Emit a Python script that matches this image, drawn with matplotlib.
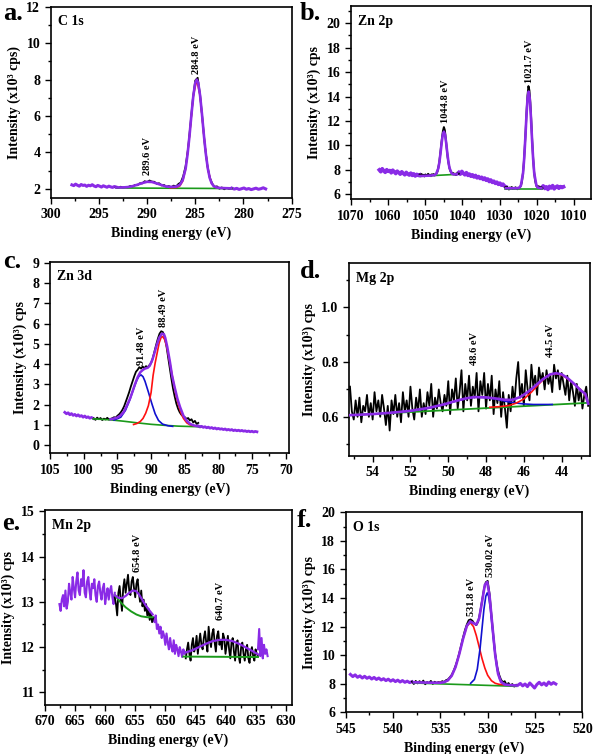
import numpy as np
import matplotlib.pyplot as plt
from matplotlib.ticker import MultipleLocator

plt.rcParams['font.family'] = 'Liberation Serif'
plt.rcParams['font.weight'] = 'bold'
plt.rcParams['axes.labelweight'] = 'bold'

PURPLE = '#8a2be6'
GREEN = '#1b9a1b'
RED = '#ff1010'
BLUE = '#1010d0'

# ---------------- a. C 1s ----------------
a_pl_left = [2.22, 2.18, 2.26, 2.20, 2.15, 2.24, 2.19, 2.21, 2.14, 2.20, 2.17, 2.23, 2.16,
             2.12, 2.19, 2.15, 2.10, 2.17, 2.13, 2.09, 2.15, 2.11, 2.08, 2.13, 2.10]
a_pl_right = [2.04, 1.99, 2.03, 1.97, 2.01, 2.05, 1.98, 2.02, 1.96, 2.00, 2.04, 1.98, 2.01, 2.06, 2.00]
a_black = [2.10, 2.05, 2.12, 2.07, 2.11, 2.08, 2.16, 2.12, 2.22, 2.20,
           2.31, 2.30, 2.42, 2.37, 2.46, 2.40, 2.39, 2.28, 2.31, 2.19,
           2.22, 2.11, 2.16, 2.09, 2.18, 2.13, 2.27, 2.36, 2.70, 3.25,
           4.20, 5.55, 6.95, 7.95, 8.10, 7.15, 5.80, 4.35, 3.30, 2.62,
           2.30, 2.10, 2.14, 2.01, 2.08, 1.98, 2.05, 2.00, 2.03]
a_env_x = [293.2, 292.5, 292.0, 291.5, 291.0, 290.5, 290.0, 289.5, 289.0, 288.5,
           288.0, 287.5, 287.0, 286.6, 286.3, 286.0, 285.8, 285.6, 285.4, 285.2,
           285.0, 284.85, 284.7, 284.5, 284.3, 284.1, 283.9, 283.7, 283.5, 283.3,
           283.1, 282.8, 282.4, 281.9, 281.3]
a_env_y = [2.08, 2.08, 2.10, 2.15, 2.23, 2.32, 2.39, 2.38, 2.30, 2.21,
           2.13, 2.11, 2.12, 2.22, 2.49, 3.12, 3.90, 4.91, 6.07, 7.12,
           7.83, 8.00, 7.83, 7.12, 6.07, 4.91, 3.90, 3.12, 2.60, 2.31,
           2.16, 2.08, 2.05, 2.04, 2.03]
a_red_x = [287.6, 287.0, 286.6, 286.3, 286.0, 285.6, 285.2, 284.85, 284.5, 284.1, 283.7, 283.3, 282.9, 282.4]
a_red_y = [2.06, 2.07, 2.16, 2.42, 3.08, 4.88, 7.10, 7.98, 7.10, 4.88, 3.08, 2.28, 2.09, 2.05]
a_bg_x = [293.2, 281.2]
a_bg_y = [2.05, 2.02]

# ---------------- b. Zn 2p ----------------
b_pl_left = [8.00, 7.85, 8.10, 7.92, 7.80, 8.02, 7.88, 7.95, 7.76, 7.98, 7.84, 7.70, 7.90, 7.78,
             7.65, 7.85, 7.72, 7.60, 7.80, 7.66, 7.58, 7.74, 7.55, 7.68, 7.50, 7.64, 7.56, 7.60]
b_pl_mid = [7.80, 7.65, 7.88, 7.72, 7.60, 7.78, 7.55, 7.66, 7.48, 7.60, 7.42, 7.55, 7.35, 7.46, 7.30, 7.40,
            7.22, 7.34, 7.15, 7.26, 7.05, 7.18, 6.98, 7.08, 6.90, 7.00, 6.82, 6.92, 6.75, 6.84, 6.68, 6.62]
b_pl_right = [6.55, 6.70, 6.48, 6.62, 6.40, 6.66, 6.52, 6.72, 6.45, 6.60, 6.68, 6.50, 6.64, 6.56, 6.62]
b_black1 = [7.62, 7.48, 7.66, 7.55, 7.60, 7.47, 7.63, 7.58, 7.52, 7.68,
            7.55, 7.61, 7.49, 7.64, 7.58, 7.66, 7.55, 7.62, 7.70, 7.85,
            8.20, 8.60, 9.25, 9.95, 10.65, 11.20, 11.50, 11.25, 10.55, 9.80,
            9.05, 8.55, 8.15, 7.90, 7.80, 7.66, 7.74, 7.62, 7.70, 7.58,
            7.72, 7.65, 7.69]
b_env1_x = [1051.5, 1050.0, 1048.5, 1047.5, 1047.1, 1046.5, 1046.2, 1045.9, 1045.6, 1045.3,
            1045.0, 1044.7, 1044.4, 1044.1, 1043.8, 1043.5, 1042.9, 1042.5, 1041.5]
b_env1_y = [7.50, 7.52, 7.54, 7.58, 7.66, 8.13, 8.66, 9.40, 10.22, 10.88,
            11.13, 10.89, 10.23, 9.41, 8.69, 8.16, 7.71, 7.64, 7.64]
b_bg1_x = [1051.5, 1041.5]
b_bg1_y = [7.48, 7.64]
b_black2 = [6.58, 6.45, 6.62, 6.50, 6.40, 6.56, 6.48, 6.60, 6.44, 6.53,
            6.47, 6.58, 6.50, 6.42, 6.55, 6.49, 6.60, 6.75, 7.05, 7.70,
            8.55, 9.80, 11.20, 12.80, 14.10, 14.85, 14.50, 13.50, 12.05, 10.40,
            9.00, 7.90, 7.20, 6.85, 6.62, 6.70, 6.52, 6.64, 6.48, 6.58, 6.51]
b_env2_x = [1028.3, 1026.5, 1025.0, 1024.7, 1024.3, 1023.7, 1023.4, 1023.1, 1022.8, 1022.5,
            1022.2, 1021.9, 1021.6, 1021.3, 1021.0, 1020.7, 1020.1, 1019.7, 1018.8]
b_env2_y = [6.50, 6.50, 6.51, 6.55, 6.71, 7.74, 8.93, 10.56, 12.38, 13.84,
            14.40, 13.84, 12.38, 10.56, 8.93, 7.74, 6.71, 6.55, 6.50]
b_bg2_x = [1028.5, 1018.7]
b_bg2_y = [6.47, 6.47]

# ---------------- c. Zn 3d ----------------
c_pl_left = [1.62, 1.55, 1.60, 1.50, 1.56, 1.47, 1.52, 1.44, 1.50, 1.42, 1.46, 1.38, 1.44, 1.36,
             1.40, 1.33, 1.37, 1.32]
c_pl_right = [0.95, 0.90, 0.93, 0.88, 0.91, 0.86, 0.89, 0.84, 0.87, 0.82, 0.85, 0.80, 0.83, 0.79,
              0.81, 0.77, 0.80, 0.75, 0.78, 0.74, 0.77, 0.72, 0.75, 0.71, 0.74, 0.70, 0.73, 0.69,
              0.71, 0.67, 0.70, 0.66, 0.69, 0.65, 0.68, 0.66]
c_black = [1.32, 1.25, 1.36, 1.28, 1.34, 1.24, 1.31, 1.27, 1.35, 1.26,
           1.30, 1.33, 1.38, 1.36, 1.45, 1.52, 1.62, 1.75, 1.92, 2.15,
           2.38, 2.62, 2.90, 3.15, 3.40, 3.62, 3.72, 3.85, 3.78, 3.88,
           3.80, 3.90, 3.84, 3.95, 4.05, 4.30, 4.62, 4.95, 5.25, 5.50,
           5.62, 5.58, 5.35, 4.95, 4.40, 3.85, 3.30, 2.80, 2.40, 2.05,
           1.80, 1.62, 1.50, 1.42, 1.38, 1.30, 1.34, 1.22, 1.28, 1.12,
           1.20, 1.05, 1.10]
c_env_x = [96.0, 95.1, 94.6, 94.1, 93.6, 93.1, 92.7, 92.4, 92.0, 91.6,
           91.2, 90.9, 90.5, 90.2, 89.8, 89.5, 89.2, 88.8, 88.4, 88.1,
           87.9, 87.6, 87.2, 86.9, 86.5, 86.1, 85.7, 85.2, 84.7, 84.2,
           83.7, 83.2, 82.7]
c_env_y = [1.28, 1.35, 1.45, 1.62, 1.95, 2.32, 2.70, 3.00, 3.35, 3.60,
           3.72, 3.78, 3.82, 3.92, 4.22, 4.55, 4.90, 5.30, 5.50, 5.48,
           5.30, 4.85, 4.10, 3.45, 2.85, 2.30, 1.88, 1.45, 1.20, 1.05,
           0.98, 0.94, 0.92]
c_blue_x = [95.5, 94.5, 93.8, 93.2, 92.6, 92.1, 91.8, 91.5, 91.2, 90.9, 90.4, 89.9, 89.4, 88.9, 88.3, 87.5, 86.8]
c_blue_y = [1.24, 1.38, 1.72, 2.20, 2.78, 3.22, 3.40, 3.47, 3.38, 3.15, 2.62, 2.06, 1.55, 1.22, 1.04, 0.96, 0.93]
c_red_x = [92.6, 92.1, 91.6, 91.2, 90.8, 90.4, 90.0, 89.7, 89.4, 89.1, 88.8, 88.5, 88.3,
           88.0, 87.7, 87.4, 87.0, 86.7, 86.3, 86.0, 85.6, 85.2, 84.7, 84.2, 83.5]
c_red_y = [1.02, 1.07, 1.17, 1.32, 1.58, 1.95, 2.60, 3.45, 4.05, 4.55, 5.05, 5.33, 5.36,
           5.22, 4.88, 4.40, 3.68, 3.13, 2.45, 2.06, 1.62, 1.32, 1.10, 1.00, 0.95]
c_bg_x = [98.6, 96.0, 94.0, 92.0, 90.0, 88.0, 86.0, 84.0, 82.7]
c_bg_y = [1.30, 1.25, 1.18, 1.10, 1.03, 0.98, 0.94, 0.92, 0.91]

# ---------------- d. Mg 2p ----------------
d_black = [0.71, 0.62, 0.59, 0.66, 0.60, 0.67, 0.58, 0.64, 0.62, 0.68,
           0.60, 0.65, 0.59, 0.69, 0.62, 0.66, 0.60, 0.68, 0.63, 0.57,
           0.64, 0.55, 0.66, 0.61, 0.68, 0.60, 0.65, 0.58, 0.69, 0.62,
           0.66, 0.60, 0.71, 0.63, 0.59, 0.67, 0.62, 0.70, 0.60, 0.65,
           0.61, 0.69, 0.64, 0.72, 0.60, 0.67, 0.63, 0.70, 0.65, 0.62,
           0.68, 0.64, 0.73, 0.61, 0.70, 0.66, 0.74, 0.63, 0.69, 0.77,
           0.62, 0.72, 0.66, 0.75, 0.64, 0.71, 0.67, 0.76, 0.62, 0.73,
           0.68, 0.76, 0.63, 0.72, 0.66, 0.75, 0.61, 0.70, 0.65, 0.73,
           0.60, 0.69, 0.63, 0.56, 0.68, 0.62, 0.71, 0.65, 0.74, 0.80,
           0.67, 0.72, 0.64, 0.77, 0.70, 0.66, 0.79, 0.71, 0.75, 0.68,
           0.78, 0.73, 0.76, 0.70, 0.77, 0.72, 0.75, 0.69, 0.79, 0.74,
           0.77, 0.70, 0.76, 0.72, 0.68, 0.75, 0.66, 0.73, 0.69, 0.64,
           0.72, 0.66, 0.70, 0.63, 0.68, 0.71, 0.64]
d_env_x = [55.2, 54.0, 53.0, 52.0, 51.0, 50.2, 49.5, 49.0, 48.6, 48.0, 47.5, 47.0, 46.6,
           46.2, 45.8, 45.4, 45.0, 44.6, 44.3, 44.0, 43.7, 43.3, 43.0, 42.75, 42.6]
d_env_y = [0.606, 0.610, 0.615, 0.622, 0.633, 0.646, 0.660, 0.668, 0.672, 0.671, 0.667, 0.662, 0.662,
           0.672, 0.690, 0.713, 0.737, 0.755, 0.759, 0.755, 0.742, 0.718, 0.697, 0.684, 0.648]
d_blue_x = [53.0, 52.0, 51.0, 50.2, 49.5, 49.0, 48.6, 48.0, 47.5, 47.0, 46.5, 46.0, 45.5, 45.0, 44.5]
d_blue_y = [0.615, 0.621, 0.632, 0.645, 0.659, 0.668, 0.672, 0.670, 0.665, 0.657, 0.651, 0.647, 0.645, 0.645, 0.645]
d_red_x = [47.8, 47.3, 46.8, 46.4, 46.0, 45.6, 45.2, 44.8, 44.5, 44.2, 43.9, 43.5, 43.1, 42.8, 42.6]
d_red_y = [0.635, 0.637, 0.641, 0.650, 0.665, 0.690, 0.720, 0.748, 0.756, 0.757, 0.749, 0.729, 0.705, 0.686, 0.650]
d_bg_x = [55.2, 42.6]
d_bg_y = [0.606, 0.651]

# ---------------- e. Mn 2p ----------------
e_pl_left = [12.95, 12.80, 13.05, 13.15, 12.90, 13.25, 12.85, 13.00, 13.40, 13.20,
             13.05, 13.55, 13.30, 13.10, 13.45, 13.65, 13.25, 13.15, 13.50, 13.35,
             13.70, 13.20, 13.10, 13.45, 13.55, 13.25, 13.05, 13.40, 13.30, 13.50,
             13.15, 13.00, 13.35, 13.45, 13.20, 13.05, 13.30, 13.40, 12.95, 13.15,
             13.30, 13.05, 13.25, 13.35, 13.10, 12.95, 13.20]
e_black1 = [13.10, 12.95, 12.70, 13.20, 13.35, 13.05, 12.80, 13.30, 13.50, 13.20,
            13.40, 13.60, 13.25, 13.15, 13.45, 13.55, 13.30, 13.10, 13.40, 13.50,
            13.20, 13.00, 13.25, 12.90, 13.05, 12.80, 12.95, 12.70, 12.85, 12.60,
            12.75, 12.55, 12.65]
e_env1_x = [658.4, 657.8, 657.2, 656.6, 656.0, 655.4, 654.9, 654.4, 653.9, 653.3, 652.7, 652.1]
e_env1_y = [13.15, 13.09, 13.08, 13.13, 13.20, 13.25, 13.24, 13.17, 13.06, 12.93, 12.82, 12.72]
e_bg1_x = [658.4, 657.5, 656.6, 655.7, 654.8, 654.0, 653.0, 652.1]
e_bg1_y = [13.15, 13.00, 12.88, 12.79, 12.72, 12.68, 12.66, 12.66]
e_pl_mid = [12.65, 12.55, 12.70, 12.40, 12.50, 12.30, 12.45, 12.20, 12.35, 12.25,
            12.05, 12.30, 12.10, 11.95, 12.20, 12.00, 11.90, 12.15, 11.85, 12.05,
            11.95, 11.80, 12.00, 11.90, 11.78, 11.95, 11.85, 11.88]
e_black2 = [11.75, 11.95, 12.10, 11.85, 11.70, 12.05, 12.20, 11.90, 12.00, 12.25,
            11.85, 12.10, 12.30, 12.05, 11.95, 12.20, 12.35, 12.10, 11.90, 12.45,
            12.15, 12.00, 12.30, 12.40, 12.10, 11.90, 12.25, 12.35, 12.05, 12.15,
            11.95, 12.30, 12.20, 11.85, 12.05, 12.25, 11.95, 11.75, 12.10, 12.20,
            11.90, 11.70, 12.05, 12.15, 11.80, 11.65, 12.00, 12.10, 11.85, 11.70,
            11.95, 12.05, 11.75, 11.65, 11.90, 12.00, 11.80, 11.70, 11.95, 11.85, 11.80]
e_env2_x = [646.6, 645.5, 644.4, 643.3, 642.2, 641.0, 639.9, 638.8, 637.7, 636.6, 635.5, 634.6]
e_env2_y = [11.88, 11.93, 12.00, 12.07, 12.13, 12.16, 12.16, 12.13, 12.07, 11.99, 11.91, 11.84]
e_bg2_x = [647.0, 634.6]
e_bg2_y = [11.79, 11.78]
e_pl_right = [11.95, 12.40, 11.80, 12.20, 11.75, 12.05, 11.85, 11.95, 11.80]

# ---------------- f. O 1s ----------------
f_pl_left = [8.65, 8.50, 8.62, 8.45, 8.55, 8.40, 8.52, 8.38, 8.47, 8.33, 8.44, 8.30, 8.40, 8.26,
             8.35, 8.22, 8.32, 8.18, 8.28, 8.15, 8.25, 8.12, 8.22, 8.10, 8.18, 8.08, 8.14]
f_pl_right = [7.90, 8.02, 7.85, 7.98, 7.80, 8.05, 7.88, 7.70, 7.95, 8.10, 7.92, 8.05, 7.88, 8.12, 7.96, 8.08, 7.98]
f_black = [8.15, 7.98, 8.20, 8.02, 8.18, 8.05, 8.22, 7.96, 8.12, 8.04,
           8.20, 7.98, 8.14, 8.05, 8.12, 8.08, 8.18, 8.12, 8.25, 8.30,
           8.45, 8.62, 8.90, 9.25, 9.65, 10.15, 10.70, 11.25, 11.75, 12.15,
           12.45, 12.50, 12.40, 12.20, 12.10, 12.35, 13.00, 13.80, 14.60, 15.10,
           15.20, 14.30, 12.80, 11.40, 10.10, 9.20, 8.65, 8.30, 8.10, 8.18,
           7.92, 8.05, 7.85, 7.98, 7.80, 7.92]
f_env_x = [537.8, 536.5, 535.5, 535.0, 534.6, 534.2, 533.8, 533.4, 533.0, 532.6, 532.2, 531.85, 531.5,
           531.2, 530.9, 530.6, 530.3, 530.05, 529.8, 529.5, 529.2, 528.9, 528.6, 528.2, 527.6, 527.0]
f_env_y = [8.10, 8.08, 8.07, 8.07, 8.11, 8.24, 8.56, 9.16, 10.08, 11.15, 12.05, 12.36, 12.24,
           12.14, 12.57, 13.70, 14.92, 15.12, 14.14, 12.03, 9.98, 8.69, 8.13, 7.94, 7.90, 7.88]
f_red_x = [535.5, 534.6, 534.2, 533.8, 533.4, 533.0, 532.6, 532.2, 531.85, 531.5,
           531.2, 530.9, 530.6, 530.3, 530.0, 529.6, 529.2, 528.8, 528.4, 527.8]
f_red_y = [8.06, 8.11, 8.23, 8.56, 9.16, 10.08, 11.15, 12.01, 12.29, 12.00,
           11.37, 10.58, 9.77, 9.10, 8.59, 8.21, 8.03, 7.96, 7.93, 7.92]
f_blue_x = [531.8, 531.4, 531.1, 530.8, 530.6, 530.4, 530.2, 530.05, 529.9, 529.7, 529.5, 529.3, 529.0, 528.7, 528.3, 527.8]
f_blue_y = [8.03, 8.30, 9.01, 10.49, 11.84, 13.19, 14.12, 14.36, 14.12, 13.18, 11.83, 10.48, 8.99, 8.27, 7.98, 7.92]
f_bg_x = [537.8, 527.0]
f_bg_y = [8.05, 7.82]


def frame(ax, xlim, ylim, xmaj, xmin, ymaj, ymin, title, ylabel):
    ax.set_xlim(*xlim)
    ax.set_ylim(*ylim)
    ax.xaxis.set_major_locator(MultipleLocator(xmaj))
    ax.xaxis.set_minor_locator(MultipleLocator(xmin))
    ax.yaxis.set_major_locator(MultipleLocator(ymaj))
    if ymin:
        ax.yaxis.set_minor_locator(MultipleLocator(ymin))
    ax.tick_params(which='both', direction='out', width=1, labelsize=10)
    ax.tick_params(which='major', length=4)
    ax.tick_params(which='minor', length=2.5)
    for s in ax.spines.values():
        s.set_linewidth(1.2)
    ax.set_xlabel('Binding energy (eV)', fontsize=10)
    ax.set_ylabel(ylabel, fontsize=10)
    ax.text(0.03, 0.955, title, transform=ax.transAxes, ha='left', va='top', fontsize=10)


def noisy(ax, x0, x1, y, color, lw):
    x = np.linspace(x0, x1, len(y))
    ax.plot(x, y, color=color, lw=lw, zorder=2)


def peak_label(ax, x, y, s):
    ax.text(x, y, s, rotation=90, ha='center', va='bottom', fontsize=7.5)


fig = plt.figure(figsize=(5.95, 7.54), dpi=100)
ylab = 'Intensity (x10³) cps'

# a
ax = fig.add_axes([0.0852, 0.7374, 0.4050, 0.2537])
noisy(ax, 297.8, 293.2, a_pl_left, PURPLE, 2.2)
noisy(ax, 281.2, 277.7, a_pl_right, PURPLE, 2.2)
noisy(ax, 293.25, 281.25, a_black, 'black', 1.3)
ax.plot(a_bg_x, a_bg_y, color=GREEN, lw=1.2, zorder=3)
ax.plot(a_red_x, a_red_y, color=RED, lw=1.1, zorder=3)
ax.plot(a_env_x, a_env_y, color=PURPLE, lw=1.9, zorder=4)
peak_label(ax, 284.85, 8.3, '284.8 eV')
peak_label(ax, 290.0, 2.75, '289.6 eV')
frame(ax, (300, 275), (1.5, 12), 5, 2.5, 2, 1, 'C 1s', 'Intensity (x10³ cps)')

# b
ax = fig.add_axes([0.5899, 0.7357, 0.4029, 0.2564])
noisy(ax, 1062.4, 1051.5, b_pl_left, PURPLE, 2.6)
noisy(ax, 1041.0, 1028.3, b_pl_mid, PURPLE, 2.6)
noisy(ax, 1018.7, 1012.8, b_pl_right, PURPLE, 2.6)
noisy(ax, 1051.5, 1041.0, b_black1, 'black', 1.4)
noisy(ax, 1028.5, 1018.5, b_black2, 'black', 1.4)
ax.plot(b_bg1_x, b_bg1_y, color=GREEN, lw=1.2, zorder=3)
ax.plot(b_bg2_x, b_bg2_y, color=GREEN, lw=1.2, zorder=3)
ax.plot(b_env1_x, b_env1_y, color=PURPLE, lw=1.9, zorder=4)
ax.plot(b_env2_x, b_env2_y, color=PURPLE, lw=1.9, zorder=4)
peak_label(ax, 1044.6, 11.8, '1044.8 eV')
peak_label(ax, 1022.1, 15.1, '1021.7 eV')
frame(ax, (1070, 1005.5), (5.6, 21.4), 10, 5, 2, 1, 'Zn 2p', ylab)

# c
ax = fig.add_axes([0.0840, 0.3988, 0.4022, 0.2541])
noisy(ax, 102.8, 98.6, c_pl_left, PURPLE, 2.0)
noisy(ax, 83.0, 74.3, c_pl_right, PURPLE, 2.0)
noisy(ax, 98.5, 83.0, c_black, 'black', 1.3)
ax.plot(c_bg_x, c_bg_y, color=GREEN, lw=1.2, zorder=3)
ax.plot(c_blue_x, c_blue_y, color=BLUE, lw=1.2, zorder=3)
ax.plot(c_red_x, c_red_y, color=RED, lw=1.2, zorder=3)
ax.plot(c_env_x, c_env_y, color=PURPLE, lw=1.8, zorder=4)
peak_label(ax, 91.4, 3.95, '91.48 eV')
peak_label(ax, 88.2, 5.85, '88.49 eV')
frame(ax, (105, 69.5), (-0.4, 9.05), 5, 2.5, 1, None, 'Zn 3d', ylab)

# d
ax = fig.add_axes([0.5866, 0.3952, 0.4050, 0.2556])
noisy(ax, 55.2, 42.6, d_black, 'black', 1.3)
ax.plot(d_bg_x, d_bg_y, color=GREEN, lw=1.3, zorder=3)
ax.plot(d_blue_x, d_blue_y, color=BLUE, lw=1.2, zorder=3)
ax.plot(d_red_x, d_red_y, color=RED, lw=1.2, zorder=3)
ax.plot(d_env_x, d_env_y, color=PURPLE, lw=1.9, zorder=4)
peak_label(ax, 48.6, 0.79, '48.6 eV')
peak_label(ax, 44.6, 0.82, '44.5 eV')
frame(ax, (55.25, 42.5), (0.457, 1.16), 2, 1, 0.2, 0.1, 'Mg 2p', ylab)

# e
ax = fig.add_axes([0.0756, 0.0650, 0.4146, 0.2586])
noisy(ax, 667.6, 658.4, e_pl_left, PURPLE, 1.5)
noisy(ax, 652.0, 646.6, e_pl_mid, PURPLE, 1.5)
noisy(ax, 634.6, 633.0, e_pl_right, PURPLE, 1.5)
noisy(ax, 658.4, 652.0, e_black1, 'black', 1.3)
noisy(ax, 646.6, 634.6, e_black2, 'black', 1.3)
ax.plot(e_bg1_x, e_bg1_y, color=GREEN, lw=1.4, zorder=3)
ax.plot(e_bg2_x, e_bg2_y, color=GREEN, lw=1.4, zorder=3)
ax.plot(e_env1_x, e_env1_y, color=PURPLE, lw=1.6, zorder=4)
ax.plot(e_env2_x, e_env2_y, color=PURPLE, lw=1.6, zorder=4)
peak_label(ax, 654.7, 13.66, '654.8 eV')
peak_label(ax, 640.8, 12.6, '640.7 eV')
frame(ax, (670, 629), (10.72, 15.03), 5, 2.5, 1, 0.5, 'Mn 2p', ylab)

# f
ax = fig.add_axes([0.5810, 0.0553, 0.3977, 0.2653])
noisy(ax, 544.5, 538.0, f_pl_left, PURPLE, 2.2)
noisy(ax, 526.8, 522.8, f_pl_right, PURPLE, 2.2)
noisy(ax, 538.0, 527.0, f_black, 'black', 1.3)
ax.plot(f_bg_x, f_bg_y, color=GREEN, lw=1.2, zorder=3)
ax.plot(f_red_x, f_red_y, color=RED, lw=1.2, zorder=3)
ax.plot(f_blue_x, f_blue_y, color=BLUE, lw=1.2, zorder=3)
ax.plot(f_env_x, f_env_y, color=PURPLE, lw=1.9, zorder=4)
peak_label(ax, 531.7, 12.75, '531.8 eV')
peak_label(ax, 529.75, 15.5, '530.02 eV')
frame(ax, (545, 520), (6.0, 20.0), 5, 2.5, 2, 1, 'O 1s', ylab)

# panel letters
for s, x, y in [('a.', 3, 20), ('b.', 300, 20), ('c.', 3, 268),
                ('d.', 300, 278), ('e.', 2, 530), ('f.', 297, 527)]:
    fig.text(x / 595, 1 - y / 754, s, fontsize=19, va='baseline', ha='left')

plt.savefig('out.png', dpi=100)
